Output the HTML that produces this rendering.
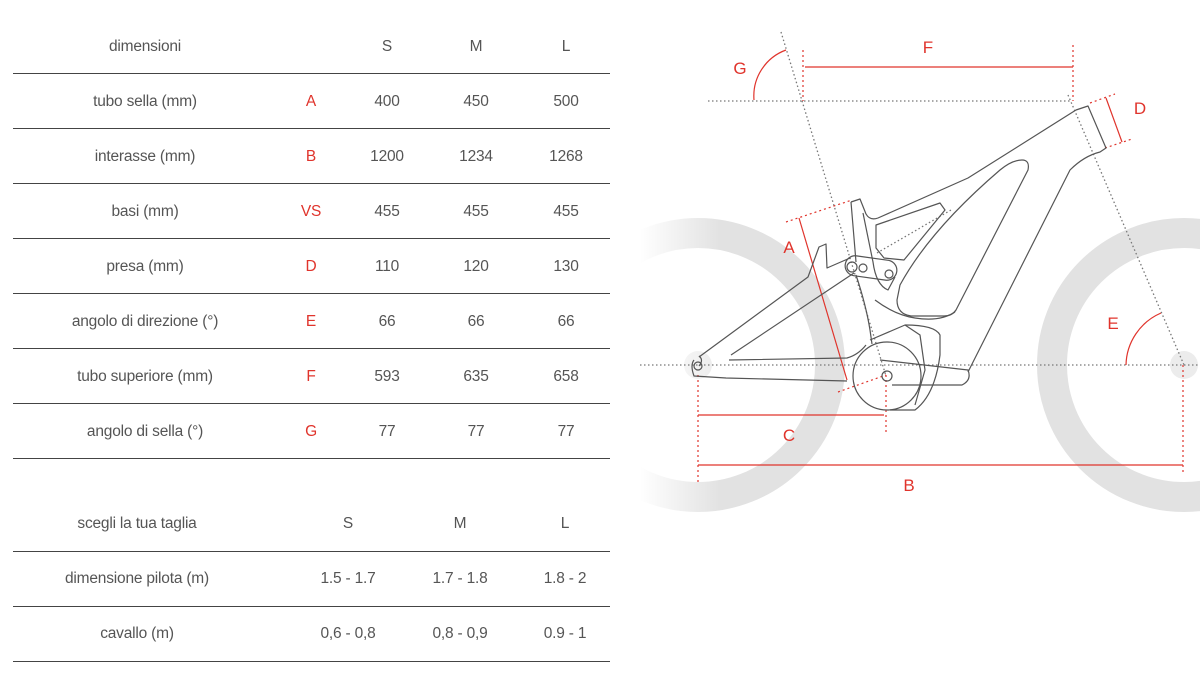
<!DOCTYPE html>
<html><head><meta charset="utf-8"><style>
body{margin:0;width:1200px;height:673px;background:#fff;overflow:hidden;position:relative;font-family:"Liberation Sans",sans-serif;}
.t{position:absolute;font-size:15.5px;color:#555;transform:translate(-50%,-50%);white-space:nowrap;letter-spacing:-0.2px}
.r{color:#e0342c}
.l{position:absolute;left:13px;width:597px;height:1px;background:#444}
svg{position:absolute;left:0;top:0}
</style></head><body>
<svg width="1200" height="673" viewBox="0 0 1200 673">
<defs>
<linearGradient id="fd" x1="640" y1="0" x2="720" y2="0" gradientUnits="userSpaceOnUse">
<stop offset="0" stop-color="#fff" stop-opacity="1"/><stop offset="1" stop-color="#fff" stop-opacity="0"/>
</linearGradient>
<clipPath id="cp"><rect x="640" y="0" width="560" height="673"/></clipPath>
</defs>
<g clip-path="url(#cp)">
<g fill="none" stroke="#e2e2e2" stroke-width="30">
<circle cx="698" cy="365" r="132"/><circle cx="1184" cy="365" r="132"/>
</g>
<circle cx="698" cy="365" r="14" fill="#ececec"/><circle cx="1184" cy="365" r="14" fill="#ececec"/>
<rect x="640" y="0" width="80" height="673" fill="url(#fd)"/>
</g>
<g fill="none" stroke="#777" stroke-width="1.3" stroke-dasharray="1.5 2.5">
<line x1="640" y1="365" x2="1200" y2="365"/>
<line x1="708" y1="101" x2="1072" y2="101"/>
<line x1="781" y1="32" x2="886" y2="376"/>
<line x1="1068" y1="95" x2="1184" y2="365"/>
<line x1="877" y1="253" x2="951" y2="210"/>
</g>
<g fill="none" stroke="#e0342c" stroke-width="1.2">
<line x1="805" y1="67" x2="1073" y2="67"/>
<line x1="1106" y1="98" x2="1122" y2="142"/>
<line x1="799" y1="218" x2="847" y2="380"/>
<line x1="698" y1="415" x2="884" y2="415"/>
<line x1="698" y1="465" x2="1183" y2="465"/>
<path d="M754,100 A49,49 0 0 1 786,50"/>
<path d="M1126,365 A58,58 0 0 1 1161,313"/>
</g>
<g fill="none" stroke="#e0342c" stroke-width="1.2" stroke-dasharray="2 3">
<line x1="803" y1="50" x2="803" y2="101"/>
<line x1="1073" y1="45" x2="1073" y2="101"/>
<line x1="1090" y1="103" x2="1115" y2="94"/>
<line x1="1105" y1="148" x2="1132" y2="139"/>
<line x1="786" y1="222" x2="852" y2="200"/>
<line x1="838" y1="392" x2="886" y2="375"/>
<line x1="886" y1="375" x2="886" y2="432"/>
<line x1="698" y1="375" x2="698" y2="482"/>
<line x1="1183" y1="365" x2="1183" y2="472"/>
</g>
<g fill="none" stroke="#555" stroke-width="1.2" stroke-linejoin="round">
<path d="M851,202 L860,199 L866,214 Q870,221 878,218 L968,178 L1076,110 L1088,106 L1106,148 L1100,152 Q1084,156 1070,170 L968,372"/>
<path d="M876,225 L940,203 L945,210 L904,260 L884,258 L876,248 Z"/>
<path d="M1022,160 Q1030,160 1028,170 L956,310 Q952,316 944,316 L911,316 Q897,314 897,300 L900,285 Q930,230 1000,170 Q1012,160 1022,160 Z"/>
<path d="M851,202 L856,262 M863,213 L873,262 Q876,285 888,290 L895,277"/>
<path d="M856,275 Q866,305 870,330 L872,344"/>
<path d="M875,300 Q895,315 915,318 Q940,322 955,312"/>
<path d="M699,357 L808,277 L819,247 L826,244 L827,268 L850,258"/>
<path d="M731,355 L854,273"/>
<path d="M729,360 L847,358 Q858,355 866,345"/>
<path d="M694,360 Q690,365 694,376 L726,378 L847,381"/>
<path d="M699,356 Q704,360 699,366"/>
<rect x="845" y="258" width="52" height="20" rx="10" transform="rotate(8 871 268)"/>
<circle cx="852" cy="267" r="5"/><circle cx="863" cy="268" r="4"/><circle cx="889" cy="274" r="4"/>
<circle cx="887" cy="376" r="34"/>
<circle cx="887" cy="376" r="5"/>
<path d="M880,360 L968,370 Q972,380 962,385 L892,385"/>
<path d="M870,340 L905,325 Q935,325 940,335 L940,355 Q935,395 915,410 L890,410"/>
<path d="M905,325 L920,335 L925,370 L915,405"/>
<circle cx="698" cy="366" r="4"/>
</g>
<g font-family="Liberation Sans,sans-serif" font-size="17" fill="#e0342c" text-anchor="middle">
<text x="928" y="53">F</text><text x="740" y="74">G</text><text x="1140" y="114">D</text>
<text x="789" y="253">A</text><text x="1113" y="329">E</text><text x="789" y="441">C</text><text x="909" y="491">B</text>
</g>
</svg>

<div class="l" style="top:73px"></div><div class="l" style="top:128px"></div><div class="l" style="top:183px"></div><div class="l" style="top:238px"></div><div class="l" style="top:293px"></div><div class="l" style="top:348px"></div><div class="l" style="top:403px"></div><div class="l" style="top:458px"></div>
<div class="l" style="top:551px"></div><div class="l" style="top:606px"></div><div class="l" style="top:661px"></div>

<div class="t" style="left:145px;top:47px">dimensioni</div><div class="t" style="left:387px;top:47px">S</div><div class="t" style="left:476px;top:47px">M</div><div class="t" style="left:566px;top:47px">L</div>
<div class="t" style="left:145px;top:102px">tubo sella (mm)</div><div class="t r" style="left:311px;top:102px">A</div><div class="t" style="left:387px;top:102px">400</div><div class="t" style="left:476px;top:102px">450</div><div class="t" style="left:566px;top:102px">500</div>
<div class="t" style="left:145px;top:157px">interasse (mm)</div><div class="t r" style="left:311px;top:157px">B</div><div class="t" style="left:387px;top:157px">1200</div><div class="t" style="left:476px;top:157px">1234</div><div class="t" style="left:566px;top:157px">1268</div>
<div class="t" style="left:145px;top:212px">basi (mm)</div><div class="t r" style="left:311px;top:212px">VS</div><div class="t" style="left:387px;top:212px">455</div><div class="t" style="left:476px;top:212px">455</div><div class="t" style="left:566px;top:212px">455</div>
<div class="t" style="left:145px;top:267px">presa (mm)</div><div class="t r" style="left:311px;top:267px">D</div><div class="t" style="left:387px;top:267px">110</div><div class="t" style="left:476px;top:267px">120</div><div class="t" style="left:566px;top:267px">130</div>
<div class="t" style="left:145px;top:322px">angolo di direzione (°)</div><div class="t r" style="left:311px;top:322px">E</div><div class="t" style="left:387px;top:322px">66</div><div class="t" style="left:476px;top:322px">66</div><div class="t" style="left:566px;top:322px">66</div>
<div class="t" style="left:145px;top:377px">tubo superiore (mm)</div><div class="t r" style="left:311px;top:377px">F</div><div class="t" style="left:387px;top:377px">593</div><div class="t" style="left:476px;top:377px">635</div><div class="t" style="left:566px;top:377px">658</div>
<div class="t" style="left:145px;top:432px">angolo di sella (°)</div><div class="t r" style="left:311px;top:432px">G</div><div class="t" style="left:387px;top:432px">77</div><div class="t" style="left:476px;top:432px">77</div><div class="t" style="left:566px;top:432px">77</div>

<div class="t" style="left:137px;top:524px">scegli la tua taglia</div><div class="t" style="left:348px;top:524px">S</div><div class="t" style="left:460px;top:524px">M</div><div class="t" style="left:565px;top:524px">L</div>
<div class="t" style="left:137px;top:579px">dimensione pilota (m)</div><div class="t" style="left:348px;top:579px">1.5 - 1.7</div><div class="t" style="left:460px;top:579px">1.7 - 1.8</div><div class="t" style="left:565px;top:579px">1.8 - 2</div>
<div class="t" style="left:137px;top:634px">cavallo (m)</div><div class="t" style="left:348px;top:634px">0,6 - 0,8</div><div class="t" style="left:460px;top:634px">0,8 - 0,9</div><div class="t" style="left:565px;top:634px">0.9 - 1</div>
</body></html>
